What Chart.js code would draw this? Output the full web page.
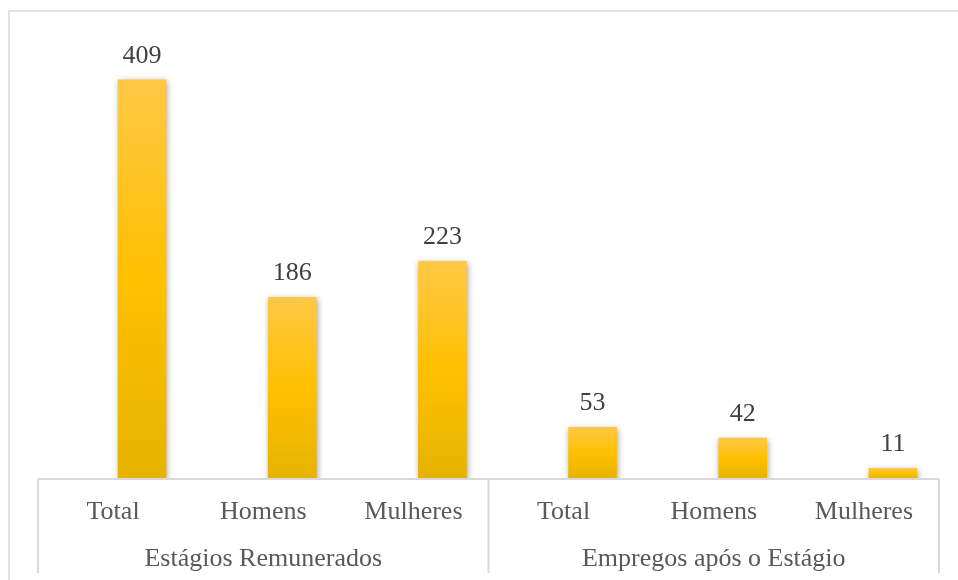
<!DOCTYPE html>
<html>
<head>
<meta charset="utf-8">
<script src="https://cdn.jsdelivr.net/npm/chart.js@4/dist/chart.umd.min.js"></script>
<style>
  html, body { margin: 0; padding: 0; background: #fff; }
  canvas { display: block; }
</style>
</head>
<body>
<canvas id="estagiosChart" width="958" height="580"></canvas>
<script>
// categories, groups and counts
const categories = ["Total", "Homens", "Mulheres", "Total", "Homens", "Mulheres"];
const groups = ["Estágios Remunerados", "Empregos após o Estágio"];
const counts = [409, 186, 223, 53, 42, 11];

Chart.defaults.font.family = "'Liberation Serif', 'DejaVu Serif', serif";
Chart.defaults.font.size = 26;
Chart.defaults.color = "#595959";

// gold gradient per bar, light at the top and darker at the base
function barGradient(ctx) {
  const chart = ctx.chart;
  if (!chart.chartArea || ctx.type !== "data") return "#FFC000";
  const y = chart.scales.y;
  const top = y.getPixelForValue(ctx.parsed.y);
  const base = y.getPixelForValue(0);
  const g = chart.ctx.createLinearGradient(0, top, 0, base);
  g.addColorStop(0, "#FFC845");
  g.addColorStop(0.5, "#FFC000");
  g.addColorStop(1, "#E6B300");
  return g;
}

// soft drop shadow under the bars
const barShadow = {
  id: "barShadow",
  beforeDatasetsDraw(chart) {
    const ctx = chart.ctx;
    ctx.save();
    ctx.shadowColor = "rgba(0,0,0,0.35)";
    ctx.shadowBlur = 6;
    ctx.shadowOffsetX = 1;
    ctx.shadowOffsetY = 2;
  },
  afterDatasetsDraw(chart) {
    chart.ctx.restore();
  }
};

// value above each bar
const valueLabels = {
  id: "valueLabels",
  afterDatasetsDraw(chart) {
    const ctx = chart.ctx;
    const meta = chart.getDatasetMeta(0);
    ctx.save();
    ctx.font = "26px 'Liberation Serif', 'DejaVu Serif', serif";
    ctx.fillStyle = "#404040";
    ctx.textAlign = "center";
    ctx.textBaseline = "alphabetic";
    meta.data.forEach((el, i) => {
      ctx.fillText(String(counts[i]), el.x, el.y - 17);
    });
    ctx.restore();
  }
};

// outer frame plus the two-level category axis lines
const frameLines = {
  id: "frameLines",
  afterDraw(chart) {
    const ctx = chart.ctx;
    const area = chart.chartArea;
    const x = chart.scales.x;
    const bottom = 573;
    ctx.save();
    ctx.strokeStyle = "#d9d9d9";
    ctx.lineWidth = 1.5;
    ctx.beginPath();
    ctx.moveTo(9, 580);
    ctx.lineTo(9, 11);
    ctx.lineTo(958, 11);
    ctx.stroke();

    ctx.lineWidth = 2;
    const mid = (x.getPixelForTick(2) + x.getPixelForTick(3)) / 2;
    ctx.beginPath();
    ctx.moveTo(area.left, area.bottom);
    ctx.lineTo(area.right, area.bottom);
    [area.left, mid, area.right].forEach(px => {
      ctx.moveTo(px, area.bottom);
      ctx.lineTo(px, bottom);
    });
    ctx.stroke();
    ctx.restore();
  }
};

new Chart(document.getElementById("estagiosChart"), {
  type: "bar",
  data: {
    labels: categories,
    datasets: [
      {
        data: counts.map((v, i) => ({ x: i, y: v })),
        xAxisID: "xb",
        backgroundColor: barGradient,
        barThickness: 48,
      },
    ],
  },
  options: {
    responsive: false,
    animation: false,
    layout: { padding: { left: 38, right: 19, top: 30, bottom: 0 } },
    plugins: { legend: { display: false }, tooltip: { enabled: false } },
    scales: {
      xb: {
        type: "linear",
        display: false,
        offset: false,
        grid: { offset: false },
        min: -0.693,
        max: 5.307,
      },
      x: {
        type: "category",
        labels: categories,
        position: "bottom",
        offset: true,
        grid: { display: false },
        border: { display: false },
        ticks: { padding: 10, maxRotation: 0, autoSkip: false },
        afterFit: (s) => { s.height = 47; },
      },
      x2: {
        type: "category",
        labels: groups,
        position: "bottom",
        offset: true,
        grid: { display: false },
        border: { display: false },
        ticks: { padding: 10, maxRotation: 0, autoSkip: false },
        afterFit: (s) => { s.height = 54; },
      },
      y: {
        display: false,
        min: 0,
        max: 460,
      },
    },
  },
  plugins: [barShadow, valueLabels, frameLines],
});
</script>
</body>
</html>
